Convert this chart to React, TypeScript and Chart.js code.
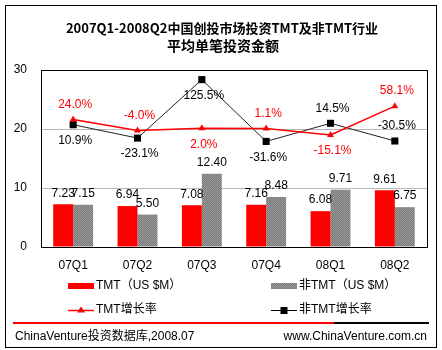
import React, { useEffect, useRef } from "react";
import { Chart, registerables } from "chart.js";

Chart.register(...registerables);

const categories = ["07Q1", "07Q2", "07Q3", "07Q4", "08Q1", "08Q2"];
const tmtAmount = [7.23, 6.94, 7.08, 7.16, 6.08, 9.61];
const nonTmtAmount = [7.15, 5.5, 12.4, 8.48, 9.71, 6.75];
const tmtGrowth = [24.0, -4.0, 2.0, 1.1, -15.1, 58.1];
const nonTmtGrowth = [10.9, -23.1, 125.5, -31.6, 14.5, -30.5];
const yMin = 0;
const yMax = 30;
const yStep = 10;
const growthMin = -300;
const growthMax = 150;
const titleLines = ["2007Q1-2008Q2中国创投市场投资TMT及非TMT行业", "平均单笔投资金额"];
const legendLabels = ["TMT（US $M）", "非TMT（US $M）", "TMT增长率", "非TMT增长率"];
const sourceText = "ChinaVenture投资数据库,2008.07";
const siteText = "www.ChinaVenture.com.cn";
const tmtGrowthPlace = ["above", "above", "below", "above", "below", "above"];
const nonTmtGrowthPlace = ["below", "below", "below", "below", "above", "above"];

const LATIN = "'Liberation Sans', Arial, 'Noto Sans CJK SC', sans-serif";
const TITLE_FAMILY = "'Noto Sans CJK SC', 'Liberation Sans', sans-serif";

function makePattern(): CanvasPattern | string {
  const pc = document.createElement("canvas");
  pc.width = 2;
  pc.height = 2;
  const p = pc.getContext("2d");
  if (!p) return "#808080";
  p.fillStyle = "#7c7c7c";
  p.fillRect(0, 0, 2, 2);
  p.fillStyle = "#979797";
  p.fillRect(0, 0, 1, 1);
  p.fillRect(1, 1, 1, 1);
  const pat = p.createPattern(pc, "repeat");
  return pat || "#808080";
}

const decorPlugin = {
  id: "decor",
  beforeDraw(chart: any) {
    const ctx = chart.ctx;
    ctx.save();
    ctx.fillStyle = "#ffffff";
    ctx.fillRect(0, 0, chart.width, chart.height);
    ctx.restore();
  },
  afterDatasetsDraw(chart: any) {
    const ctx = chart.ctx;
    const area = chart.chartArea;
    ctx.save();
    ctx.strokeStyle = "#000000";
    ctx.lineWidth = 1;
    ctx.strokeRect(Math.round(area.left) + 0.5, Math.round(area.top) + 0.5, Math.round(area.right - area.left), Math.round(area.bottom - area.top));

    ctx.font = "12px " + LATIN;
    ctx.textAlign = "center";
    ctx.textBaseline = "middle";
    [0, 1].forEach((di) => {
      const meta = chart.getDatasetMeta(di);
      const vals = chart.data.datasets[di].data;
      meta.data.forEach((el: any, i: number) => {
        ctx.fillStyle = "#000000";
        ctx.fillText(Number(vals[i]).toFixed(2), el.x, el.y - 11);
      });
    });
    const lineSets = [
      { di: 2, place: tmtGrowthPlace, color: "#ff0000" },
      { di: 3, place: nonTmtGrowthPlace, color: "#000000" },
    ];
    lineSets.forEach((s) => {
      const meta = chart.getDatasetMeta(s.di);
      const vals = chart.data.datasets[s.di].data;
      meta.data.forEach((el: any, i: number) => {
        ctx.fillStyle = s.color;
        const dy = s.place[i] === "above" ? -15 : 16;
        ctx.fillText(Number(vals[i]).toFixed(1) + "%", el.x + 2, el.y + dy);
      });
    });
    ctx.restore();
  },
  afterDraw(chart: any) {
    const ctx = chart.ctx;
    ctx.save();
    ctx.strokeStyle = "#000000";
    ctx.lineWidth = 1;
    ctx.strokeRect(5.5, 5.5, 431, 342);

    ctx.fillStyle = "#000000";
    ctx.textAlign = "center";
    ctx.textBaseline = "middle";
    ctx.font = "bold 13px " + TITLE_FAMILY;
    ctx.fillText(titleLines[0], 222, 28);
    ctx.font = "bold 14px " + TITLE_FAMILY;
    ctx.fillText(titleLines[1], 223, 46);

    const pattern = chart.data.datasets[1].backgroundColor;
    ctx.font = "12px " + LATIN;
    ctx.textAlign = "left";
    ctx.textBaseline = "middle";
    const rows = [286, 310];
    const cols = [68, 271];
    ctx.fillStyle = "#ff0000";
    ctx.fillRect(cols[0], rows[0] - 3, 26, 6);
    ctx.fillStyle = pattern;
    ctx.fillRect(cols[1], rows[0] - 3, 26, 6);
    ctx.fillStyle = "#000000";
    ctx.fillText(legendLabels[0], cols[0] + 28, rows[0]);
    ctx.fillText(legendLabels[1], cols[1] + 28, rows[0]);
    ctx.strokeStyle = "#ff0000";
    ctx.lineWidth = 1.5;
    ctx.beginPath();
    ctx.moveTo(cols[0], rows[1] + 0.5);
    ctx.lineTo(cols[0] + 26, rows[1] + 0.5);
    ctx.stroke();
    ctx.fillStyle = "#ff0000";
    ctx.beginPath();
    ctx.moveTo(cols[0] + 13, rows[1] - 3.5);
    ctx.lineTo(cols[0] + 17, rows[1] + 2.5);
    ctx.lineTo(cols[0] + 9, rows[1] + 2.5);
    ctx.closePath();
    ctx.fill();
    ctx.strokeStyle = "#000000";
    ctx.lineWidth = 1;
    ctx.beginPath();
    ctx.moveTo(cols[1], rows[1] + 0.5);
    ctx.lineTo(cols[1] + 26, rows[1] + 0.5);
    ctx.stroke();
    ctx.fillStyle = "#000000";
    ctx.fillRect(cols[1] + 9.5, rows[1] - 3, 7, 7);
    ctx.fillText(legendLabels[2], cols[0] + 28, rows[1]);
    ctx.fillText(legendLabels[3], cols[1] + 28, rows[1]);

    ctx.lineWidth = 2;
    ctx.strokeStyle = "#ff0000";
    ctx.beginPath();
    ctx.moveTo(13, 323);
    ctx.lineTo(334, 323);
    ctx.stroke();
    ctx.strokeStyle = "#000000";
    ctx.beginPath();
    ctx.moveTo(334, 323);
    ctx.lineTo(429, 323);
    ctx.stroke();

    ctx.fillStyle = "#000000";
    ctx.font = "12px " + LATIN;
    ctx.textAlign = "left";
    ctx.fillText(sourceText, 15, 337);
    ctx.textAlign = "right";
    ctx.fillText(siteText, 427, 337);
    ctx.restore();
  },
};

export default function App() {
  const ref = useRef<HTMLCanvasElement | null>(null);

  useEffect(() => {
    const canvas = ref.current;
    if (!canvas) return;
    const pattern = makePattern();
    const chart = new Chart(canvas, {
      type: "bar",
      data: {
        labels: categories,
        datasets: [
          {
            type: "bar",
            label: legendLabels[0],
            data: tmtAmount,
            backgroundColor: "#ff0000",
            borderWidth: 0,
            yAxisID: "y",
            order: 2,
            barPercentage: 1,
            categoryPercentage: 0.62,
          },
          {
            type: "bar",
            label: legendLabels[1],
            data: nonTmtAmount,
            backgroundColor: pattern as any,
            borderWidth: 0,
            yAxisID: "y",
            order: 2,
            barPercentage: 1,
            categoryPercentage: 0.62,
          },
          {
            type: "line",
            label: legendLabels[2],
            data: tmtGrowth,
            borderColor: "#ff0000",
            borderWidth: 1.5,
            backgroundColor: "#ff0000",
            pointStyle: "triangle",
            pointRadius: 4,
            pointBorderWidth: 0,
            tension: 0,
            yAxisID: "y1",
            order: 0,
          },
          {
            type: "line",
            label: legendLabels[3],
            data: nonTmtGrowth,
            borderColor: "#222222",
            borderWidth: 1,
            backgroundColor: "#000000",
            pointStyle: "rect",
            pointRadius: 5,
            pointBorderWidth: 0,
            tension: 0,
            yAxisID: "y1",
            order: 1,
          },
        ],
      },
      options: {
        animation: false,
        responsive: false,
        maintainAspectRatio: false,
        layout: { padding: { top: 70, right: 15, bottom: 0, left: 0 } },
        plugins: {
          legend: { display: false },
          title: { display: false },
          tooltip: { enabled: false },
        },
        scales: {
          x: {
            grid: { display: false },
            border: { display: false },
            ticks: {
              color: "#000000",
              font: { family: LATIN, size: 12 },
              padding: 3,
              maxRotation: 0,
            },
            afterFit: (s: any) => {
              s.height = 103;
            },
          },
          y: {
            min: yMin,
            max: yMax,
            position: "left",
            ticks: {
              stepSize: yStep,
              color: "#000000",
              font: { family: LATIN, size: 12 },
              padding: 14,
            },
            grid: {
              drawTicks: false,
              color: (c: any) => (c.tick && c.tick.value > yMin && c.tick.value < yMax ? "#b8b8b8" : "rgba(0,0,0,0)"),
            },
            border: { display: false },
            afterFit: (s: any) => {
              s.width = 41;
            },
          },
          y1: {
            display: false,
            min: growthMin,
            max: growthMax,
          },
        },
      },
      plugins: [decorPlugin],
    });
    return () => chart.destroy();
  }, []);

  return (
    <div style={{ position: "fixed", left: 0, top: 0, width: 442, height: 350, background: "#fff" }}>
      <canvas ref={ref} width={442} height={350} style={{ display: "block", width: 442, height: 350 }} />
    </div>
  );
}
